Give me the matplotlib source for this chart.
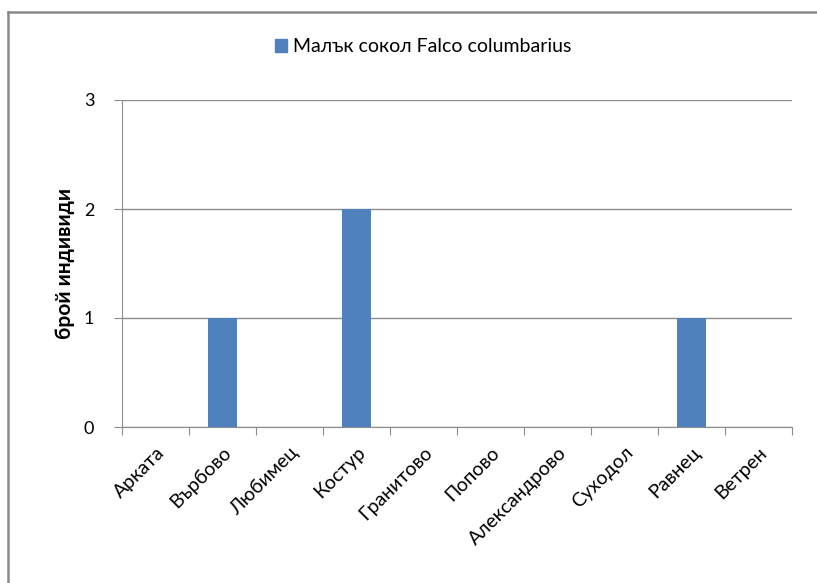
import matplotlib.pyplot as plt
from matplotlib.lines import Line2D
from matplotlib.patches import Patch
import numpy as np

plt.rcParams['font.family'] = ['Lato', 'Noto Sans', 'DejaVu Sans']

villages = ['Арката', 'Върбово', 'Любимец', 'Костур', 'Гранитово', 'Попово',
            'Александрово', 'Суходол', 'Равнец', 'Ветрен']
counts = [0, 1, 0, 2, 0, 0, 0, 0, 1, 0]
series_name = 'Малък сокол Falco columbarius'

W, H = 817, 583
fig = plt.figure(figsize=(W / 100, H / 100), dpi=100)
ax = fig.add_axes([122 / W, 1 - 427 / H, (792 - 122) / W, (427 - 100) / H])

x = np.arange(len(villages))
ax.bar(x, counts, width=0.42, color='#4F81BD', zorder=3)

ax.set_xlim(-0.5, len(villages) - 0.5)
ax.set_ylim(0, 3)
ax.set_yticks([0, 1, 2, 3])
ax.yaxis.grid(True, color='#8C8C8C', linewidth=1)
ax.set_axisbelow(True)

for s in ['top', 'right']:
    ax.spines[s].set_visible(False)
ax.spines['left'].set_color('#8C8C8C')
ax.spines['bottom'].set_color('#8C8C8C')

# category boundary ticks below the axis
ax.set_xticks(np.arange(-0.5, len(villages)), minor=False)
ax.set_xticklabels([])
ax.tick_params(axis='x', length=6, color='#8C8C8C', direction='out')
ax.set_xticks(x, minor=True)
ax.set_xticklabels(villages, minor=True, rotation=45, ha='right',
                   rotation_mode='anchor', fontsize=14)
ax.tick_params(axis='x', which='minor', length=0, pad=12)
ax.tick_params(axis='y', length=6, color='#8C8C8C', labelsize=13, pad=14)

ax.set_ylabel('брой индивиди', fontsize=15, fontweight='bold', labelpad=6)

fig.legend(handles=[Patch(color='#4F81BD', label=series_name)],
           loc='center', bbox_to_anchor=(0.518, 1 - 47 / H), frameon=False,
           fontsize=14, handlelength=0.6, handleheight=0.6, handletextpad=0.3)

# chart area border (left and top edges visible)
x0 = 8 / W
y0 = 1 - 12 / H
fig.add_artist(Line2D([x0, x0], [0, y0], color='#8A8A8A', linewidth=1.8))
fig.add_artist(Line2D([x0, 1], [y0, y0], color='#8A8A8A', linewidth=1.8))

fig.savefig('out.png', dpi=100)
